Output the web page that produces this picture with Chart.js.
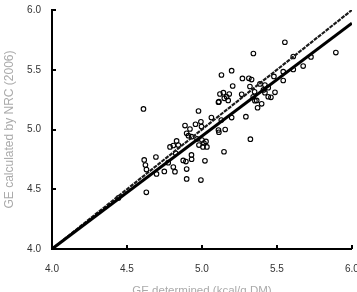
<!DOCTYPE html>
<html>
<head>
<meta charset="utf-8">
<script src="https://cdn.jsdelivr.net/npm/chart.js@4/dist/chart.umd.min.js"></script>
<style>
  html, body { margin: 0; padding: 0; background: #fff; }
  #wrap { width: 357px; height: 292px; position: relative; }
</style>
</head>
<body>
<div id="wrap"><canvas id="c" width="357" height="292"></canvas></div>
<script>
// Observed points: GE determined (x) vs GE calculated by NRC (2006) (y), kcal/g DM
const obsX = [4.610,5.343,5.553,5.893,5.609,5.727,5.675,5.609,5.542,5.480,5.542,5.487,5.442,5.420,5.442,5.460,5.365,5.398,5.371,
  5.130,5.198,5.270,5.313,5.331,5.205,5.320,5.387,5.420,5.265,5.351,5.342,5.353,5.120,5.143,5.165,5.182,5.149,5.175,5.110,
  5.293,5.198,5.129,5.063,4.977,5.113,4.887,4.920,4.957,4.993,4.997,4.898,4.910,4.931,4.831,4.787,4.809,4.842,4.967,5.000,
  5.013,5.027,4.980,5.007,5.033,5.110,5.113,5.155,5.323,5.147,4.875,4.893,4.931,4.930,5.020,4.809,4.820,4.898,4.898,4.993,
  4.693,4.615,4.623,4.630,4.697,4.749,4.775,4.629,4.443,4.825,5.410];
const obsY = [5.172,5.636,5.730,5.644,5.611,5.607,5.531,5.502,5.484,5.444,5.410,5.311,5.350,5.308,5.274,5.269,5.243,5.215,5.182,
  5.456,5.492,5.427,5.428,5.418,5.364,5.360,5.381,5.372,5.295,5.316,5.274,5.241,5.297,5.308,5.274,5.297,5.261,5.243,5.228,
  5.107,5.100,5.079,5.100,5.155,5.233,5.033,5.004,5.044,5.065,5.025,4.968,4.948,4.940,4.904,4.854,4.866,4.870,4.921,4.912,
  4.887,4.900,4.870,4.854,4.854,4.996,4.977,5.000,4.919,4.814,4.741,4.732,4.751,4.787,4.738,4.686,4.647,4.669,4.586,4.577,
  4.770,4.745,4.703,4.665,4.628,4.649,4.722,4.474,4.427,4.801,5.331];
// Line endpoints
const lineX = [4.0, 6.0];
const identityY = [4.0, 6.0];
const regressionY = [4.0, 5.89];
// Axis ticks
const tickValues = [4.0, 4.5, 5.0, 5.5, 6.0];

const pts = obsX.map((x, i) => ({ x: x, y: obsY[i] }));
const idLine = lineX.map((x, i) => ({ x: x, y: identityY[i] }));
const regLine = lineX.map((x, i) => ({ x: x, y: regressionY[i] }));

const inwardTicks = {
  id: 'inwardTicks',
  afterDraw(chart) {
    const ctx = chart.ctx;
    const xs = chart.scales.x, ys = chart.scales.y;
    const a = chart.chartArea;
    ctx.save();
    ctx.strokeStyle = '#000';
    ctx.lineWidth = 2;
    tickValues.forEach(v => {
      const px = Math.round(xs.getPixelForValue(v));
      ctx.beginPath(); ctx.moveTo(px, a.bottom); ctx.lineTo(px, a.bottom - 4); ctx.stroke();
      const py = Math.round(ys.getPixelForValue(v));
      ctx.beginPath(); ctx.moveTo(a.left, py); ctx.lineTo(a.left + 4, py); ctx.stroke();
    });
    ctx.restore();
  }
};

new Chart(document.getElementById('c'), {
  type: 'scatter',
  data: {
    datasets: [
      { data: regLine, showLine: true, borderColor: '#000', borderWidth: 3, pointRadius: 0, order: 0 },
      { data: idLine, showLine: true, borderColor: '#1a1a1a', borderWidth: 2.2, borderDash: [4, 1], pointRadius: 0, order: 1 },
      { data: pts, pointRadius: 2.3, pointBorderWidth: 1.1, pointBorderColor: '#000', pointBackgroundColor: 'rgba(0,0,0,0)', showLine: false, order: 2 }
    ]
  },
  options: {
    responsive: false,
    animation: false,
    layout: { padding: { top: 10, right: 5, bottom: -6, left: 0 } },
    plugins: { legend: { display: false }, tooltip: { enabled: false } },
    scales: {
      x: {
        type: 'linear', min: 4, max: 6,
        afterBuildTicks: s => { s.ticks = tickValues.map(v => ({ value: v })); },
        afterFit: s => { s.height = 49; s.paddingLeft = 0; s.paddingRight = 0; },
        grid: { display: true, drawOnChartArea: false, drawTicks: false },
        border: { display: true, color: '#000', width: 2 },
        ticks: { padding: 14, color: '#333', font: { family: 'Liberation Sans, Arial', size: 10 }, callback: v => Number(v).toFixed(1), maxRotation: 0 },
        title: { display: true, text: 'GE determined (kcal/g DM)', color: '#aaa', font: { family: 'Liberation Sans, Arial', size: 11.5 }, padding: { top: 0, bottom: 0 } }
      },
      y: {
        type: 'linear', min: 4, max: 6,
        afterBuildTicks: s => { s.ticks = tickValues.map(v => ({ value: v })); },
        afterFit: s => { s.width = 52; s.paddingTop = 0; s.paddingBottom = 0; },
        grid: { display: true, drawOnChartArea: false, drawTicks: false },
        border: { display: true, color: '#000', width: 2 },
        ticks: { padding: 11, color: '#333', font: { family: 'Liberation Sans, Arial', size: 10 }, callback: v => Number(v).toFixed(1) },
        title: { display: true, text: 'GE calculated by NRC (2006)', color: '#aaa', font: { family: 'Liberation Sans, Arial', size: 12 }, padding: { top: 2, bottom: 0 } }
      }
    }
  },
  plugins: [inwardTicks]
});
</script>
</body>
</html>
